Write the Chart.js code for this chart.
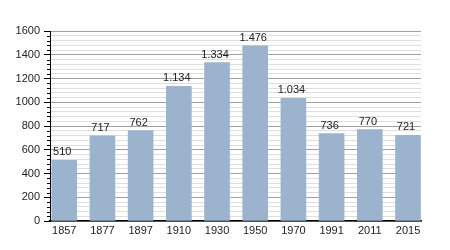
<!DOCTYPE html>
<html><head><meta charset="utf-8">
<script src="https://cdn.jsdelivr.net/npm/chart.js@4"></script>
<style>html,body{margin:0;padding:0;background:#fff}#wrap{width:450px;height:250px;position:relative}</style>
</head><body><div id="wrap"><canvas id="c"></canvas></div>
<script>
const years = ['1857','1877','1897','1910','1930','1950','1970','1991','2011','2015'];
const population = [510,717,762,1134,1334,1476,1034,736,770,721];
const yMajorTicks = [0,200,400,600,800,1000,1200,1400,1600];
const yMinorStep = 40;

function fmt(v){
  return v >= 1000 ? Math.floor(v/1000) + '.' + String(v % 1000).padStart(3,'0') : String(v);
}
const FONT = 'Liberation Sans, Arial, sans-serif';

const valueLabels = {
  id: 'valueLabels',
  afterDatasetsDraw(chart){
    const ctx = chart.ctx;
    const meta = chart.getDatasetMeta(0);
    ctx.save();
    ctx.font = '11px ' + FONT;
    ctx.fillStyle = '#222';
    ctx.textAlign = 'center';
    ctx.textBaseline = 'alphabetic';
    meta.data.forEach((bar, i) => {
      ctx.fillText(fmt(population[i]), bar.x - 2, bar.y - 5);
    });
    ctx.restore();
  }
};
const minorTicks = {
  id: 'minorTicks',
  afterDraw(chart){
    const y = chart.scales.y;
    const ctx = chart.ctx;
    ctx.save();
    ctx.strokeStyle = '#000';
    ctx.lineWidth = 1;
    for (let v = 0; v <= 1600; v += yMinorStep){
      if (v % 200 === 0) continue;
      const py = Math.round(y.getPixelForValue(v)) + 0.5;
      ctx.beginPath();
      ctx.moveTo(y.right - 3, py);
      ctx.lineTo(y.right, py);
      ctx.stroke();
    }
    ctx.restore();
  }
};

new Chart(document.getElementById('c'), {
  type: 'bar',
  data: {
    datasets: [{
      data: population.map((v, i) => ({x: i, y: v})),
      backgroundColor: '#9bb3cd',
      borderWidth: 0,
      barThickness: 25
    }]
  },
  options: {
    responsive: true,
    maintainAspectRatio: false,
    animation: false,
    events: [],
    layout: {padding: {top: 31, right: 29, left: 0, bottom: 0}},
    plugins: {legend: {display: false}, tooltip: {enabled: false}},
    scales: {
      x: {
        type: 'linear',
        min: -0.373,
        max: 9.34,
        offset: false,
        afterBuildTicks(scale){ scale.ticks = years.map((_, i) => ({value: i})); },
        afterFit(scale){ scale.height = 29; },
        grid: {display: false, drawTicks: false},
        border: {display: true, color: '#000', width: 1.5},
        ticks: {
          autoSkip: false,
          maxRotation: 0,
          padding: 3,
          color: '#222',
          font: {family: FONT, size: 11},
          callback: (v) => years[v]
        }
      },
      y: {
        min: 0,
        max: 1600,
        afterBuildTicks(scale){
          const t = [];
          for (let v = 0; v <= 1600; v += yMinorStep) t.push({value: v});
          scale.ticks = t;
        },
        afterFit(scale){ scale.width = 50; },
        border: {display: true, color: '#000', width: 1},
        grid: {
          color: (c) => (c.tick && c.tick.value % 200 === 0) ? '#a0a0a0' : '#dedede',
          tickColor: (c) => (c.tick && c.tick.value % 200 === 0) ? '#000' : 'rgba(0,0,0,0)',
          tickLength: 6,
          lineWidth: 1
        },
        ticks: {
          autoSkip: false,
          padding: 4,
          color: '#222',
          font: {family: FONT, size: 11},
          callback: (v) => (v % 200 === 0 ? String(v) : '')
        }
      }
    }
  },
  plugins: [valueLabels, minorTicks]
});
</script>
</body></html>
